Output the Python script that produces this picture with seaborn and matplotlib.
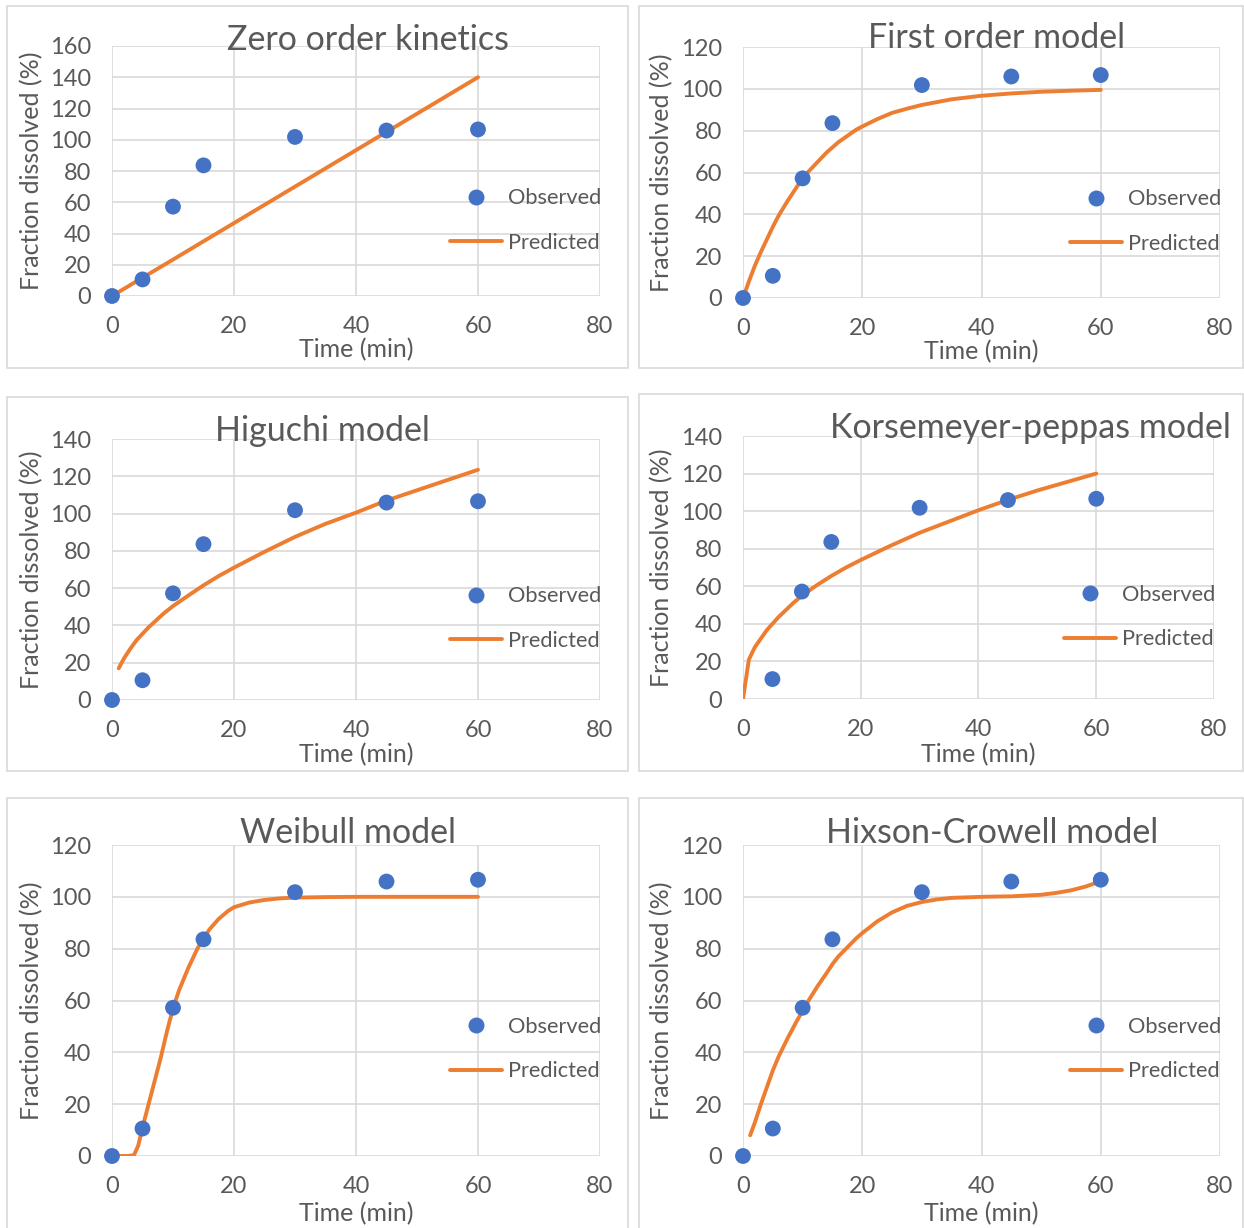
import matplotlib
matplotlib.use("Agg")
import matplotlib.pyplot as plt
from matplotlib.patches import Rectangle
from matplotlib.lines import Line2D
import seaborn as sns

# Observed dissolution data
time_obs = [0, 5, 10, 15, 30, 45, 60]
frac_obs = [0, 10.6, 57.2, 83.6, 101.8, 105.9, 106.6]

# Model predictions
zero_t = [0, 5, 10, 15, 30, 45, 60]
zero_v = [0, 11.7, 23.3, 35.0, 70.0, 105.0, 140.0]

first_t = [0, 1, 2, 3, 4, 5, 6, 7.5, 9, 10, 11, 12.5, 14, 15, 16, 17.5, 19, 20,
           22.5, 25, 27.5, 30, 35, 40, 45, 50, 55, 60]
first_v = [0, 8, 15.5, 22, 28, 34, 39.5, 46.5, 53, 57, 60.5, 65, 69.5, 72, 74.5, 77.5,
           80.5, 82, 85.5, 88.5, 90.5, 92.3, 95, 96.7, 97.8, 98.6, 99.1, 99.5]

higuchi_t = [1.1, 1.5, 2, 2.5, 3, 4, 5, 6, 7, 8.5, 10, 12.5, 15, 17.5, 20, 25, 30,
             35, 40, 45, 50, 55, 60]
higuchi_v = [17, 19.5, 22.5, 25, 27.5, 32, 35.5, 39, 42, 46.5, 50.4, 56, 61.5, 66.5,
             71, 79.5, 87.5, 94.5, 100.5, 107, 112.5, 118, 123.5]

kp_t = [0, 1, 2, 3, 4, 5, 6, 7, 8.5, 10, 12.5, 15, 17.5, 20, 25, 30, 35, 40, 45, 50, 55, 60]
kp_v = [0, 21, 27.5, 32, 36.5, 40, 43.5, 46.5, 51, 55, 60.5, 65.5, 70, 74, 81.5, 88.5,
        94.5, 100.5, 106, 111, 115.5, 120]

weibull_t = [0, 2.5, 3.6, 4.3, 5, 6, 7, 8, 9, 10, 11, 12.5, 14, 15, 16, 17.5, 19, 20,
             22.5, 25, 27.5, 30, 35, 40, 50, 60]
weibull_v = [0, 0, 0.3, 4, 11, 20, 29, 38, 48, 57, 64, 72.5, 80, 84, 87.5, 91.5, 94.5,
             96, 97.8, 98.8, 99.4, 99.7, 99.9, 100, 100, 100]

hixson_t = [1.2, 2, 3, 4, 5, 6, 7.5, 9, 10, 11, 12.5, 14, 15, 16, 17.5, 19, 20, 22.5,
            25, 27.5, 30, 32.5, 35, 40, 45, 50, 52.5, 55, 57.5, 60]
hixson_v = [8, 13, 20, 26.5, 33, 38.5, 45.5, 52, 56, 60, 65.5, 70.5, 74, 77, 80.5,
            84, 86, 90.5, 94, 96.5, 98, 99, 99.6, 100, 100.2, 100.8, 101.5, 102.5,
            104, 106]

titles = ["Zero order kinetics", "First order model", "Higuchi model",
          "Korsemeyer-peppas model", "Weibull model", "Hixson-Crowell model"]
y_max = [160, 120, 140, 140, 120, 120]
x_ticks = [0, 20, 40, 60, 80]

W, H = 1244, 1228
TEXT = "#595959"
GRID = "#D9D9D9"
BLUE = "#4472C4"
ORANGE = "#ED7D31"

sns.set_theme(style="white")
plt.rcParams["font.family"] = ["Lato", "DejaVu Sans"]

fig = plt.figure(figsize=(W / 100, H / 100), dpi=100)
fig.patch.set_facecolor("white")

# pixel layout: (left, right, top, bottom) of each plot area
plot_boxes = [
    (112, 600, 46, 296),
    (743, 1220, 47, 298),
    (112, 600, 439, 700),
    (743, 1214, 436, 699),
    (112, 600, 845, 1156),
    (743, 1220, 845, 1156),
]
# chart frames
frames = [
    (7, 628, 6, 368),
    (639, 1243, 6, 368),
    (7, 628, 397, 771),
    (639, 1243, 394, 771),
    (7, 628, 798, 1240),
    (639, 1243, 798, 1240),
]
# title centres (x, y)
title_pos = [(368, 40), (997, 38), (322, 431), (1030, 428), (348, 833), (992, 833)]
# x-axis title centres (x, y) and y-axis title x
xlabel_pos = [(356, 350), (981, 352), (356, 755), (978, 755), (356, 1214), (981, 1214)]
ylabel_x = [32, 662, 32, 662, 32, 662]
# legend row centres (y of Observed, y of Predicted) and right edge
legend_pos = [(198, 243, 600), (199, 244, 1220), (596, 641, 600),
              (595, 639, 1214), (1027, 1071, 600), (1027, 1071, 1220)]

obs_sets = [
    (time_obs, frac_obs),
    (time_obs, frac_obs),
    (time_obs, frac_obs),
    (time_obs[1:], frac_obs[1:]),
    (time_obs, frac_obs),
    (time_obs, frac_obs),
]
pred_sets = [(zero_t, zero_v), (first_t, first_v), (higuchi_t, higuchi_v),
             (kp_t, kp_v), (weibull_t, weibull_v), (hixson_t, hixson_v)]

for (fl, fr, ft, fb) in frames:
    fig.patches.append(Rectangle((fl / W, 1 - fb / H), (fr - fl) / W, (fb - ft) / H,
                                 transform=fig.transFigure, fill=False,
                                 edgecolor=GRID, linewidth=1.2, zorder=0))

for i in range(6):
    l, r, t, b = plot_boxes[i]
    aw, ah = r - l, b - t
    ax = fig.add_axes([l / W, 1 - b / H, aw / W, ah / H])
    ax.set_facecolor("none")
    px, py = pred_sets[i]
    ox, oy = obs_sets[i]
    sns.lineplot(x=px, y=py, ax=ax, color=ORANGE, linewidth=2.8,
                 estimator=None, sort=False, zorder=3)
    sns.scatterplot(x=ox, y=oy, ax=ax, color=BLUE, s=130, edgecolor="none",
                    zorder=4, clip_on=False)
    ymax = y_max[i]
    ax.set_xlim(0, 80)
    ax.set_ylim(0, ymax)
    ax.set_xticks(x_ticks)
    ax.set_yticks(list(range(0, ymax + 1, 20)))
    ax.grid(True, color=GRID, linewidth=1.2)
    ax.set_axisbelow(True)
    for s in ax.spines.values():
        s.set_visible(False)
    ax.tick_params(axis="both", length=0, labelsize=17, labelcolor=TEXT)
    ax.tick_params(axis="y", pad=15)
    ax.tick_params(axis="x", pad=14.5)
    ax.set_xlabel("Time (min)", fontsize=18, color=TEXT, va="center")
    ax.set_ylabel("Fraction dissolved (%)", fontsize=18, color=TEXT, va="center")
    xlx, xly = xlabel_pos[i]
    ax.xaxis.set_label_coords((xlx - l) / aw, (b - xly) / ah)
    ax.yaxis.set_label_coords((ylabel_x[i] - l) / aw, 0.5)

    tx, ty = title_pos[i]
    fig.text(tx / W, 1 - ty / H, titles[i], ha="center", va="center",
             fontsize=24.5, color=TEXT)

    y_obs, y_pred, xr = legend_pos[i]
    handles = [
        Line2D([], [], linestyle="none", marker="o", markersize=11.5,
               markerfacecolor=BLUE, markeredgecolor="none"),
        Line2D([], [], color=ORANGE, linewidth=2.8),
    ]
    yc = (y_obs + y_pred) / 2
    leg = ax.legend(handles, ["Observed", "Predicted"], frameon=False,
                    loc="center right",
                    bbox_to_anchor=((xr - l) / aw + 0.002, (b - yc) / ah),
                    fontsize=15.7, handlelength=2.4, handletextpad=0.25,
                    labelspacing=1.12, borderpad=0, borderaxespad=0)
    for txt in leg.get_texts():
        txt.set_color(TEXT)

fig.savefig("out.png", dpi=100, facecolor="white")
